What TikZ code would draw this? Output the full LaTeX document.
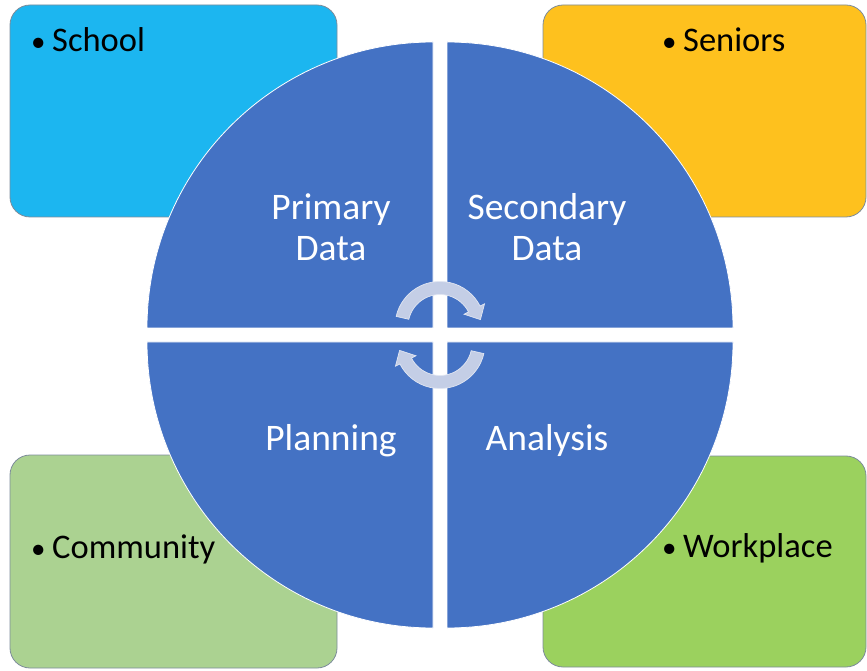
\documentclass[tikz,border=0pt]{standalone}
\usepackage{fontspec}
\setmainfont{Carlito}
\definecolor{quadblue}{RGB}{68,114,196}
\definecolor{schoolc}{RGB}{28,182,240}
\definecolor{seniorc}{RGB}{254,193,30}
\definecolor{communc}{RGB}{171,210,145}
\definecolor{workc}{RGB}{155,209,94}
\definecolor{boxline}{RGB}{125,140,155}
\definecolor{arrowc}{RGB}{196,206,230}
\definecolor{arrowline}{RGB}{225,230,242}
\newcommand{\bulletitem}[1]{\makebox[21pt][l]{\fontsize{29}{29}\selectfont •}#1}
\begin{document}
\begin{tikzpicture}[x=1pt,y=1pt,
  cbox/.style={draw=boxline,line width=0.8pt,rounded corners=20pt},
  quad/.style={fill=quadblue,draw=white,line width=0.8pt},
  boxtext/.style={inner sep=0pt,anchor=base west,text=black,font=\fontsize{34.5}{41}\selectfont},
  quadtext/.style={inner sep=0pt,text=white,align=center,font=\fontsize{37.5}{41}\selectfont},
  cyclearrow/.style={fill=arrowc,draw=arrowline,line width=0.7pt}]
\useasboundingbox (0,0) rectangle (867,670);
% corner boxes
\path[cbox,fill=schoolc] (10,453) rectangle (337,665);
\path[cbox,fill=seniorc] (543,453) rectangle (866,665);
\path[cbox,fill=communc] (10,2) rectangle (337,215);
\path[cbox,fill=workc] (543,3) rectangle (866,214);
\node[boxtext] (school) at (31,618) {\bulletitem{School}};
\node[boxtext] (seniors) at (662,618) {\bulletitem{Seniors}};
\node[boxtext] (community) at (31,112) {\bulletitem{Community}};
\node[boxtext] (workplace) at (662,113) {\bulletitem{Workplace}};
% quadrants
\path[quad] (447,342) -- ++(0:286) arc[start angle=0,end angle=90,radius=286] -- cycle;
\path[quad] (433,342) -- ++(90:286) arc[start angle=90,end angle=180,radius=286] -- cycle;
\path[quad] (433,328) -- ++(180:286) arc[start angle=180,end angle=270,radius=286] -- cycle;
\path[quad] (447,328) -- ++(270:286) arc[start angle=270,end angle=360,radius=286] -- cycle;
\node[quadtext] (primary) at (331,443) {Primary\\Data};
\node[quadtext] (secondary) at (547,443) {Secondary\\Data};
\node[quadtext] (planning) at (331,229) {Planning};
\node[quadtext] (analysis) at (547,229) {Analysis};
% cycle arrows
\begin{scope}[shift={(440,343.5)}]
\path[cyclearrow] (167:45) arc[start angle=167,end angle=27,radius=45] -- (27:50) -- (9.7:41) -- (27:27) -- (27:32) arc[start angle=27,end angle=167,radius=32] -- cycle;
\end{scope}
\begin{scope}[shift={(440,326.5)},rotate=180]
\path[cyclearrow] (167:45) arc[start angle=167,end angle=27,radius=45] -- (27:50) -- (9.7:41) -- (27:27) -- (27:32) arc[start angle=27,end angle=167,radius=32] -- cycle;
\end{scope}
\end{tikzpicture}
\end{document}
